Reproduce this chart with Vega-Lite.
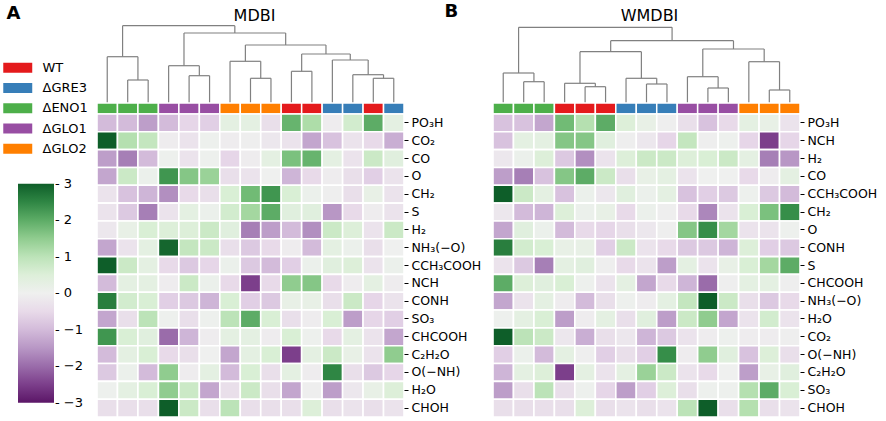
{
"$schema": "https://vega.github.io/schema/vega-lite/v6.json",
"padding": {"left": 6, "top": 2, "right": 0, "bottom": 0},
"bounds": "flush",
"align": "each",
"columns": 2,
"spacing": {"row": 0, "column": 89},
"config": {"view": {"stroke": null}, "font": "DejaVu Sans"},
"datasets": {
"dA": [
{"lx":1.5,"lh":0,"rx":2.5,"rh":0,"h":2.3},
{"lx":0.5,"lh":0,"rx":2.0,"rh":2.3,"h":4.63},
{"lx":4.5,"lh":0,"rx":5.5,"rh":0,"h":2.73},
{"lx":3.5,"lh":0,"rx":5.0,"rh":2.73,"h":3.73},
{"lx":7.5,"lh":0,"rx":8.5,"rh":0,"h":2.47},
{"lx":6.5,"lh":0,"rx":8.0,"rh":2.47,"h":4.17},
{"lx":9.5,"lh":0,"rx":10.5,"rh":0,"h":3.17},
{"lx":13.5,"lh":0,"rx":14.5,"rh":0,"h":2.47},
{"lx":12.5,"lh":0,"rx":14.0,"rh":2.47,"h":2.83},
{"lx":11.5,"lh":0,"rx":13.25,"rh":2.83,"h":4.3},
{"lx":10.0,"lh":3.17,"rx":12.375,"rh":4.3,"h":4.9},
{"lx":7.25,"lh":4.17,"rx":11.1875,"rh":4.9,"h":5.8},
{"lx":4.25,"lh":3.73,"rx":9.21875,"rh":5.8,"h":7.0},
{"lx":1.25,"lh":4.63,"rx":6.734375,"rh":7.0,"h":7.73}
],
"dB": [
{"lx":1.5,"lh":0,"rx":2.5,"rh":0,"h":2.13},
{"lx":0.5,"lh":0,"rx":2.0,"rh":2.13,"h":3.0},
{"lx":4.5,"lh":0,"rx":5.5,"rh":0,"h":1.63},
{"lx":3.5,"lh":0,"rx":5.0,"rh":1.63,"h":1.97},
{"lx":7.5,"lh":0,"rx":8.5,"rh":0,"h":1.9},
{"lx":6.5,"lh":0,"rx":8.0,"rh":1.9,"h":2.47},
{"lx":4.25,"lh":1.97,"rx":7.25,"rh":2.47,"h":5.13},
{"lx":10.5,"lh":0,"rx":11.5,"rh":0,"h":1.5},
{"lx":9.5,"lh":0,"rx":11.0,"rh":1.5,"h":2.63},
{"lx":13.5,"lh":0,"rx":14.5,"rh":0,"h":1.3},
{"lx":12.5,"lh":0,"rx":14.0,"rh":1.3,"h":4.13},
{"lx":10.25,"lh":2.63,"rx":13.25,"rh":4.13,"h":5.4},
{"lx":5.75,"lh":5.13,"rx":11.75,"rh":5.4,"h":6.23},
{"lx":1.25,"lh":3.0,"rx":8.75,"rh":6.23,"h":7.57}
],
"gA": [
{"c":1,"g":"ΔENO1"},{"c":2,"g":"ΔENO1"},{"c":3,"g":"ΔENO1"},{"c":4,"g":"ΔGLO1"},{"c":5,"g":"ΔGLO1"},{"c":6,"g":"ΔGLO1"},{"c":7,"g":"ΔGLO2"},{"c":8,"g":"ΔGLO2"},{"c":9,"g":"ΔGLO2"},{"c":10,"g":"WT"},{"c":11,"g":"WT"},{"c":12,"g":"ΔGRE3"},{"c":13,"g":"ΔGRE3"},{"c":14,"g":"WT"},{"c":15,"g":"ΔGRE3"}
],
"gB": [
{"c":1,"g":"ΔENO1"},{"c":2,"g":"ΔENO1"},{"c":3,"g":"ΔENO1"},{"c":4,"g":"WT"},{"c":5,"g":"WT"},{"c":6,"g":"WT"},{"c":7,"g":"ΔGRE3"},{"c":8,"g":"ΔGRE3"},{"c":9,"g":"ΔGRE3"},{"c":10,"g":"ΔGLO1"},{"c":11,"g":"ΔGLO1"},{"c":12,"g":"ΔGLO1"},{"c":13,"g":"ΔGLO2"},{"c":14,"g":"ΔGLO2"},{"c":15,"g":"ΔGLO2"}
],
"hA": [
{"r":"PO₃H","c":1,"v":-1.0},{"r":"PO₃H","c":2,"v":-1.0},{"r":"PO₃H","c":3,"v":-1.4},{"r":"PO₃H","c":4,"v":-1.0},{"r":"PO₃H","c":5,"v":-0.6},{"r":"PO₃H","c":6,"v":-0.7},{"r":"PO₃H","c":7,"v":0.3},{"r":"PO₃H","c":8,"v":0.3},{"r":"PO₃H","c":9,"v":-0.4},{"r":"PO₃H","c":10,"v":1.9},{"r":"PO₃H","c":11,"v":1.2},{"r":"PO₃H","c":12,"v":-0.1},{"r":"PO₃H","c":13,"v":0.7},{"r":"PO₃H","c":14,"v":2.0},{"r":"PO₃H","c":15,"v":0.3},
{"r":"CO₂","c":1,"v":3.0},{"r":"CO₂","c":2,"v":1.1},{"r":"CO₂","c":3,"v":0.9},{"r":"CO₂","c":4,"v":-0.1},{"r":"CO₂","c":5,"v":-0.3},{"r":"CO₂","c":6,"v":0.05},{"r":"CO₂","c":7,"v":-0.1},{"r":"CO₂","c":8,"v":-0.05},{"r":"CO₂","c":9,"v":-0.2},{"r":"CO₂","c":10,"v":-0.3},{"r":"CO₂","c":11,"v":-1.3},{"r":"CO₂","c":12,"v":-0.9},{"r":"CO₂","c":13,"v":-0.3},{"r":"CO₂","c":14,"v":-0.5},{"r":"CO₂","c":15,"v":-1.2},
{"r":"CO","c":1,"v":-1.4},{"r":"CO","c":2,"v":-1.8},{"r":"CO","c":3,"v":-1.0},{"r":"CO","c":4,"v":0.05},{"r":"CO","c":5,"v":-0.3},{"r":"CO","c":6,"v":0.05},{"r":"CO","c":7,"v":-0.6},{"r":"CO","c":8,"v":-0.1},{"r":"CO","c":9,"v":0.3},{"r":"CO","c":10,"v":1.7},{"r":"CO","c":11,"v":1.9},{"r":"CO","c":12,"v":0.3},{"r":"CO","c":13,"v":-0.3},{"r":"CO","c":14,"v":0.8},{"r":"CO","c":15,"v":0.4},
{"r":"O","c":1,"v":-1.3},{"r":"O","c":2,"v":0.8},{"r":"O","c":3,"v":0.1},{"r":"O","c":4,"v":2.3},{"r":"O","c":5,"v":1.6},{"r":"O","c":6,"v":1.4},{"r":"O","c":7,"v":-0.4},{"r":"O","c":8,"v":-0.3},{"r":"O","c":9,"v":0.0},{"r":"O","c":10,"v":-1.1},{"r":"O","c":11,"v":-0.5},{"r":"O","c":12,"v":-0.1},{"r":"O","c":13,"v":-0.4},{"r":"O","c":14,"v":-0.7},{"r":"O","c":15,"v":-0.3},
{"r":"CH₂","c":1,"v":-0.3},{"r":"CH₂","c":2,"v":-0.9},{"r":"CH₂","c":3,"v":-1.1},{"r":"CH₂","c":4,"v":-1.6},{"r":"CH₂","c":5,"v":-0.5},{"r":"CH₂","c":6,"v":-0.4},{"r":"CH₂","c":7,"v":0.6},{"r":"CH₂","c":8,"v":1.8},{"r":"CH₂","c":9,"v":2.3},{"r":"CH₂","c":10,"v":0.6},{"r":"CH₂","c":11,"v":0.1},{"r":"CH₂","c":12,"v":-0.05},{"r":"CH₂","c":13,"v":-0.4},{"r":"CH₂","c":14,"v":0.2},{"r":"CH₂","c":15,"v":-0.3},
{"r":"S","c":1,"v":-0.3},{"r":"S","c":2,"v":-0.8},{"r":"S","c":3,"v":-1.8},{"r":"S","c":4,"v":-0.3},{"r":"S","c":5,"v":0.3},{"r":"S","c":6,"v":0.1},{"r":"S","c":7,"v":0.7},{"r":"S","c":8,"v":1.3},{"r":"S","c":9,"v":2.0},{"r":"S","c":10,"v":0.4},{"r":"S","c":11,"v":0.4},{"r":"S","c":12,"v":-1.5},{"r":"S","c":13,"v":-0.5},{"r":"S","c":14,"v":-0.1},{"r":"S","c":15,"v":-0.3},
{"r":"H₂","c":1,"v":-0.2},{"r":"H₂","c":2,"v":0.2},{"r":"H₂","c":3,"v":0.6},{"r":"H₂","c":4,"v":0.5},{"r":"H₂","c":5,"v":0.5},{"r":"H₂","c":6,"v":0.8},{"r":"H₂","c":7,"v":0.4},{"r":"H₂","c":8,"v":-1.8},{"r":"H₂","c":9,"v":-1.4},{"r":"H₂","c":10,"v":-1.0},{"r":"H₂","c":11,"v":-1.6},{"r":"H₂","c":12,"v":0.8},{"r":"H₂","c":13,"v":0.5},{"r":"H₂","c":14,"v":-0.3},{"r":"H₂","c":15,"v":0.8},
{"r":"NH₃(−O)","c":1,"v":-1.3},{"r":"NH₃(−O)","c":2,"v":-0.3},{"r":"NH₃(−O)","c":3,"v":0.3},{"r":"NH₃(−O)","c":4,"v":2.9},{"r":"NH₃(−O)","c":5,"v":0.9},{"r":"NH₃(−O)","c":6,"v":0.8},{"r":"NH₃(−O)","c":7,"v":-0.4},{"r":"NH₃(−O)","c":8,"v":-0.8},{"r":"NH₃(−O)","c":9,"v":-0.5},{"r":"NH₃(−O)","c":10,"v":-0.1},{"r":"NH₃(−O)","c":11,"v":-1.0},{"r":"NH₃(−O)","c":12,"v":0.3},{"r":"NH₃(−O)","c":13,"v":0.1},{"r":"NH₃(−O)","c":14,"v":-0.4},{"r":"NH₃(−O)","c":15,"v":0.0},
{"r":"CCH₃COOH","c":1,"v":3.0},{"r":"CCH₃COOH","c":2,"v":0.8},{"r":"CCH₃COOH","c":3,"v":0.3},{"r":"CCH₃COOH","c":4,"v":-0.5},{"r":"CCH₃COOH","c":5,"v":-0.8},{"r":"CCH₃COOH","c":6,"v":-0.6},{"r":"CCH₃COOH","c":7,"v":0.1},{"r":"CCH₃COOH","c":8,"v":-0.8},{"r":"CCH₃COOH","c":9,"v":-1.0},{"r":"CCH₃COOH","c":10,"v":-0.7},{"r":"CCH₃COOH","c":11,"v":0.1},{"r":"CCH₃COOH","c":12,"v":0.4},{"r":"CCH₃COOH","c":13,"v":0.5},{"r":"CCH₃COOH","c":14,"v":-0.3},{"r":"CCH₃COOH","c":15,"v":0.1},
{"r":"NCH","c":1,"v":-1.0},{"r":"NCH","c":2,"v":0.3},{"r":"NCH","c":3,"v":0.3},{"r":"NCH","c":4,"v":-0.1},{"r":"NCH","c":5,"v":0.8},{"r":"NCH","c":6,"v":0.1},{"r":"NCH","c":7,"v":-0.5},{"r":"NCH","c":8,"v":-2.5},{"r":"NCH","c":9,"v":-0.5},{"r":"NCH","c":10,"v":1.5},{"r":"NCH","c":11,"v":1.6},{"r":"NCH","c":12,"v":-0.5},{"r":"NCH","c":13,"v":-0.1},{"r":"NCH","c":14,"v":0.3},{"r":"NCH","c":15,"v":-0.1},
{"r":"CONH","c":1,"v":2.6},{"r":"CONH","c":2,"v":0.7},{"r":"CONH","c":3,"v":0.6},{"r":"CONH","c":4,"v":-0.7},{"r":"CONH","c":5,"v":-0.8},{"r":"CONH","c":6,"v":-1.1},{"r":"CONH","c":7,"v":0.6},{"r":"CONH","c":8,"v":-0.7},{"r":"CONH","c":9,"v":-0.8},{"r":"CONH","c":10,"v":0.2},{"r":"CONH","c":11,"v":0.2},{"r":"CONH","c":12,"v":-0.4},{"r":"CONH","c":13,"v":0.8},{"r":"CONH","c":14,"v":-0.6},{"r":"CONH","c":15,"v":-0.3},
{"r":"SO₃","c":1,"v":-1.3},{"r":"SO₃","c":2,"v":-0.4},{"r":"SO₃","c":3,"v":1.0},{"r":"SO₃","c":4,"v":0.05},{"r":"SO₃","c":5,"v":-0.4},{"r":"SO₃","c":6,"v":0.05},{"r":"SO₃","c":7,"v":1.0},{"r":"SO₃","c":8,"v":2.0},{"r":"SO₃","c":9,"v":0.6},{"r":"SO₃","c":10,"v":-0.4},{"r":"SO₃","c":11,"v":-0.1},{"r":"SO₃","c":12,"v":0.6},{"r":"SO₃","c":13,"v":-1.4},{"r":"SO₃","c":14,"v":-0.6},{"r":"SO₃","c":15,"v":-0.7},
{"r":"CHCOOH","c":1,"v":2.3},{"r":"CHCOOH","c":2,"v":0.6},{"r":"CHCOOH","c":3,"v":0.4},{"r":"CHCOOH","c":4,"v":-2.0},{"r":"CHCOOH","c":5,"v":-1.1},{"r":"CHCOOH","c":6,"v":-0.1},{"r":"CHCOOH","c":7,"v":0.3},{"r":"CHCOOH","c":8,"v":0.3},{"r":"CHCOOH","c":9,"v":-0.1},{"r":"CHCOOH","c":10,"v":0.6},{"r":"CHCOOH","c":11,"v":0.05},{"r":"CHCOOH","c":12,"v":-0.5},{"r":"CHCOOH","c":13,"v":0.3},{"r":"CHCOOH","c":14,"v":-0.3},{"r":"CHCOOH","c":15,"v":-1.3},
{"r":"C₂H₂O","c":1,"v":-1.0},{"r":"C₂H₂O","c":2,"v":0.3},{"r":"C₂H₂O","c":3,"v":0.6},{"r":"C₂H₂O","c":4,"v":-0.5},{"r":"C₂H₂O","c":5,"v":-0.4},{"r":"C₂H₂O","c":6,"v":0.0},{"r":"C₂H₂O","c":7,"v":-1.3},{"r":"C₂H₂O","c":8,"v":0.3},{"r":"C₂H₂O","c":9,"v":0.6},{"r":"C₂H₂O","c":10,"v":-2.5},{"r":"C₂H₂O","c":11,"v":0.3},{"r":"C₂H₂O","c":12,"v":0.8},{"r":"C₂H₂O","c":13,"v":0.2},{"r":"C₂H₂O","c":14,"v":-0.3},{"r":"C₂H₂O","c":15,"v":1.5},
{"r":"O(−NH)","c":1,"v":-0.8},{"r":"O(−NH)","c":2,"v":0.1},{"r":"O(−NH)","c":3,"v":-1.0},{"r":"O(−NH)","c":4,"v":1.5},{"r":"O(−NH)","c":5,"v":-0.1},{"r":"O(−NH)","c":6,"v":0.3},{"r":"O(−NH)","c":7,"v":-1.0},{"r":"O(−NH)","c":8,"v":0.6},{"r":"O(−NH)","c":9,"v":-0.4},{"r":"O(−NH)","c":10,"v":0.3},{"r":"O(−NH)","c":11,"v":-0.1},{"r":"O(−NH)","c":12,"v":2.5},{"r":"O(−NH)","c":13,"v":-0.4},{"r":"O(−NH)","c":14,"v":-0.8},{"r":"O(−NH)","c":15,"v":-0.6},
{"r":"H₂O","c":1,"v":0.05},{"r":"H₂O","c":2,"v":0.3},{"r":"H₂O","c":3,"v":0.6},{"r":"H₂O","c":4,"v":1.5},{"r":"H₂O","c":5,"v":0.8},{"r":"H₂O","c":6,"v":-1.3},{"r":"H₂O","c":7,"v":-0.4},{"r":"H₂O","c":8,"v":0.8},{"r":"H₂O","c":9,"v":-0.4},{"r":"H₂O","c":10,"v":-1.3},{"r":"H₂O","c":11,"v":-0.05},{"r":"H₂O","c":12,"v":-1.4},{"r":"H₂O","c":13,"v":-0.2},{"r":"H₂O","c":14,"v":0.2},{"r":"H₂O","c":15,"v":0.5},
{"r":"CHOH","c":1,"v":-0.4},{"r":"CHOH","c":2,"v":-0.4},{"r":"CHOH","c":3,"v":-0.4},{"r":"CHOH","c":4,"v":3.0},{"r":"CHOH","c":5,"v":0.8},{"r":"CHOH","c":6,"v":-0.4},{"r":"CHOH","c":7,"v":1.0},{"r":"CHOH","c":8,"v":-0.4},{"r":"CHOH","c":9,"v":-0.4},{"r":"CHOH","c":10,"v":-0.4},{"r":"CHOH","c":11,"v":0.5},{"r":"CHOH","c":12,"v":-0.4},{"r":"CHOH","c":13,"v":-0.3},{"r":"CHOH","c":14,"v":-0.4},{"r":"CHOH","c":15,"v":-0.3}
],
"hB": [
{"r":"PO₃H","c":1,"v":-0.9},{"r":"PO₃H","c":2,"v":-0.9},{"r":"PO₃H","c":3,"v":-1.3},{"r":"PO₃H","c":4,"v":1.8},{"r":"PO₃H","c":5,"v":1.1},{"r":"PO₃H","c":6,"v":2.0},{"r":"PO₃H","c":7,"v":0.5},{"r":"PO₃H","c":8,"v":0.2},{"r":"PO₃H","c":9,"v":-0.05},{"r":"PO₃H","c":10,"v":-0.4},{"r":"PO₃H","c":11,"v":-0.9},{"r":"PO₃H","c":12,"v":-0.5},{"r":"PO₃H","c":13,"v":0.3},{"r":"PO₃H","c":14,"v":0.2},{"r":"PO₃H","c":15,"v":-0.3},
{"r":"NCH","c":1,"v":-0.9},{"r":"NCH","c":2,"v":0.3},{"r":"NCH","c":3,"v":0.3},{"r":"NCH","c":4,"v":1.6},{"r":"NCH","c":5,"v":1.6},{"r":"NCH","c":6,"v":0.4},{"r":"NCH","c":7,"v":-0.05},{"r":"NCH","c":8,"v":-0.2},{"r":"NCH","c":9,"v":-0.6},{"r":"NCH","c":10,"v":0.9},{"r":"NCH","c":11,"v":-0.05},{"r":"NCH","c":12,"v":0.05},{"r":"NCH","c":13,"v":-0.6},{"r":"NCH","c":14,"v":-2.5},{"r":"NCH","c":15,"v":-0.6},
{"r":"H₂","c":1,"v":-0.2},{"r":"H₂","c":2,"v":0.1},{"r":"H₂","c":3,"v":0.5},{"r":"H₂","c":4,"v":-0.8},{"r":"H₂","c":5,"v":-1.6},{"r":"H₂","c":6,"v":-0.3},{"r":"H₂","c":7,"v":0.5},{"r":"H₂","c":8,"v":0.8},{"r":"H₂","c":9,"v":0.8},{"r":"H₂","c":10,"v":0.5},{"r":"H₂","c":11,"v":0.6},{"r":"H₂","c":12,"v":0.8},{"r":"H₂","c":13,"v":0.3},{"r":"H₂","c":14,"v":-1.8},{"r":"H₂","c":15,"v":-1.5},
{"r":"CO","c":1,"v":-1.4},{"r":"CO","c":2,"v":-1.8},{"r":"CO","c":3,"v":-0.9},{"r":"CO","c":4,"v":1.6},{"r":"CO","c":5,"v":2.0},{"r":"CO","c":6,"v":0.8},{"r":"CO","c":7,"v":-0.4},{"r":"CO","c":8,"v":0.2},{"r":"CO","c":9,"v":0.3},{"r":"CO","c":10,"v":-0.3},{"r":"CO","c":11,"v":0.0},{"r":"CO","c":12,"v":0.0},{"r":"CO","c":13,"v":-0.5},{"r":"CO","c":14,"v":-0.1},{"r":"CO","c":15,"v":0.3},
{"r":"CCH₃COOH","c":1,"v":3.0},{"r":"CCH₃COOH","c":2,"v":0.8},{"r":"CCH₃COOH","c":3,"v":0.3},{"r":"CCH₃COOH","c":4,"v":-0.9},{"r":"CCH₃COOH","c":5,"v":0.1},{"r":"CCH₃COOH","c":6,"v":-0.2},{"r":"CCH₃COOH","c":7,"v":0.4},{"r":"CCH₃COOH","c":8,"v":0.1},{"r":"CCH₃COOH","c":9,"v":0.3},{"r":"CCH₃COOH","c":10,"v":-0.9},{"r":"CCH₃COOH","c":11,"v":-0.7},{"r":"CCH₃COOH","c":12,"v":-0.8},{"r":"CCH₃COOH","c":13,"v":0.05},{"r":"CCH₃COOH","c":14,"v":-0.8},{"r":"CCH₃COOH","c":15,"v":-1.0},
{"r":"CH₂","c":1,"v":-0.2},{"r":"CH₂","c":2,"v":-1.0},{"r":"CH₂","c":3,"v":-1.1},{"r":"CH₂","c":4,"v":0.5},{"r":"CH₂","c":5,"v":0.1},{"r":"CH₂","c":6,"v":0.2},{"r":"CH₂","c":7,"v":-0.5},{"r":"CH₂","c":8,"v":0.1},{"r":"CH₂","c":9,"v":-0.05},{"r":"CH₂","c":10,"v":-0.5},{"r":"CH₂","c":11,"v":-1.7},{"r":"CH₂","c":12,"v":-0.3},{"r":"CH₂","c":13,"v":0.6},{"r":"CH₂","c":14,"v":1.7},{"r":"CH₂","c":15,"v":2.4},
{"r":"O","c":1,"v":-1.3},{"r":"O","c":2,"v":0.4},{"r":"O","c":3,"v":0.1},{"r":"O","c":4,"v":-1.0},{"r":"O","c":5,"v":-0.5},{"r":"O","c":6,"v":-0.6},{"r":"O","c":7,"v":-0.4},{"r":"O","c":8,"v":-0.2},{"r":"O","c":9,"v":-0.05},{"r":"O","c":10,"v":1.6},{"r":"O","c":11,"v":2.4},{"r":"O","c":12,"v":1.3},{"r":"O","c":13,"v":-0.3},{"r":"O","c":14,"v":-0.3},{"r":"O","c":15,"v":0.05},
{"r":"CONH","c":1,"v":2.6},{"r":"CONH","c":2,"v":0.7},{"r":"CONH","c":3,"v":0.6},{"r":"CONH","c":4,"v":0.2},{"r":"CONH","c":5,"v":0.2},{"r":"CONH","c":6,"v":-0.7},{"r":"CONH","c":7,"v":0.8},{"r":"CONH","c":8,"v":-0.3},{"r":"CONH","c":9,"v":-0.5},{"r":"CONH","c":10,"v":-0.8},{"r":"CONH","c":11,"v":-0.8},{"r":"CONH","c":12,"v":-1.1},{"r":"CONH","c":13,"v":0.5},{"r":"CONH","c":14,"v":-0.7},{"r":"CONH","c":15,"v":-0.8},
{"r":"S","c":1,"v":-0.3},{"r":"S","c":2,"v":-0.8},{"r":"S","c":3,"v":-1.8},{"r":"S","c":4,"v":0.3},{"r":"S","c":5,"v":0.4},{"r":"S","c":6,"v":-0.05},{"r":"S","c":7,"v":-0.5},{"r":"S","c":8,"v":-0.3},{"r":"S","c":9,"v":-1.4},{"r":"S","c":10,"v":0.3},{"r":"S","c":11,"v":-0.3},{"r":"S","c":12,"v":0.2},{"r":"S","c":13,"v":0.6},{"r":"S","c":14,"v":1.3},{"r":"S","c":15,"v":2.0},
{"r":"CHCOOH","c":1,"v":2.0},{"r":"CHCOOH","c":2,"v":0.5},{"r":"CHCOOH","c":3,"v":0.4},{"r":"CHCOOH","c":4,"v":0.6},{"r":"CHCOOH","c":5,"v":0.05},{"r":"CHCOOH","c":6,"v":-0.3},{"r":"CHCOOH","c":7,"v":0.3},{"r":"CHCOOH","c":8,"v":-1.3},{"r":"CHCOOH","c":9,"v":-0.5},{"r":"CHCOOH","c":10,"v":-1.1},{"r":"CHCOOH","c":11,"v":-2.0},{"r":"CHCOOH","c":12,"v":-0.05},{"r":"CHCOOH","c":13,"v":0.3},{"r":"CHCOOH","c":14,"v":0.3},{"r":"CHCOOH","c":15,"v":-0.05},
{"r":"NH₃(−O)","c":1,"v":-1.3},{"r":"NH₃(−O)","c":2,"v":-0.3},{"r":"NH₃(−O)","c":3,"v":0.3},{"r":"NH₃(−O)","c":4,"v":-0.1},{"r":"NH₃(−O)","c":5,"v":-1.0},{"r":"NH₃(−O)","c":6,"v":-0.4},{"r":"NH₃(−O)","c":7,"v":0.05},{"r":"NH₃(−O)","c":8,"v":-0.1},{"r":"NH₃(−O)","c":9,"v":0.3},{"r":"NH₃(−O)","c":10,"v":0.9},{"r":"NH₃(−O)","c":11,"v":3.0},{"r":"NH₃(−O)","c":12,"v":0.8},{"r":"NH₃(−O)","c":13,"v":-0.4},{"r":"NH₃(−O)","c":14,"v":-0.8},{"r":"NH₃(−O)","c":15,"v":-0.5},
{"r":"H₂O","c":1,"v":0.05},{"r":"H₂O","c":2,"v":0.3},{"r":"H₂O","c":3,"v":0.6},{"r":"H₂O","c":4,"v":-1.4},{"r":"H₂O","c":5,"v":-0.1},{"r":"H₂O","c":6,"v":0.3},{"r":"H₂O","c":7,"v":-0.4},{"r":"H₂O","c":8,"v":0.4},{"r":"H₂O","c":9,"v":-1.4},{"r":"H₂O","c":10,"v":0.8},{"r":"H₂O","c":11,"v":1.5},{"r":"H₂O","c":12,"v":-1.3},{"r":"H₂O","c":13,"v":-0.3},{"r":"H₂O","c":14,"v":0.7},{"r":"H₂O","c":15,"v":-0.3},
{"r":"CO₂","c":1,"v":3.0},{"r":"CO₂","c":2,"v":1.0},{"r":"CO₂","c":3,"v":0.8},{"r":"CO₂","c":4,"v":-0.2},{"r":"CO₂","c":5,"v":-1.2},{"r":"CO₂","c":6,"v":-0.4},{"r":"CO₂","c":7,"v":-0.2},{"r":"CO₂","c":8,"v":-1.1},{"r":"CO₂","c":9,"v":-0.8},{"r":"CO₂","c":10,"v":-0.3},{"r":"CO₂","c":11,"v":-0.1},{"r":"CO₂","c":12,"v":0.05},{"r":"CO₂","c":13,"v":-0.1},{"r":"CO₂","c":14,"v":-0.1},{"r":"CO₂","c":15,"v":-0.05},
{"r":"O(−NH)","c":1,"v":-0.7},{"r":"O(−NH)","c":2,"v":0.1},{"r":"O(−NH)","c":3,"v":-1.0},{"r":"O(−NH)","c":4,"v":0.3},{"r":"O(−NH)","c":5,"v":-0.05},{"r":"O(−NH)","c":6,"v":-0.7},{"r":"O(−NH)","c":7,"v":-0.4},{"r":"O(−NH)","c":8,"v":-0.7},{"r":"O(−NH)","c":9,"v":2.4},{"r":"O(−NH)","c":10,"v":-0.1},{"r":"O(−NH)","c":11,"v":1.5},{"r":"O(−NH)","c":12,"v":0.4},{"r":"O(−NH)","c":13,"v":-0.9},{"r":"O(−NH)","c":14,"v":0.5},{"r":"O(−NH)","c":15,"v":-0.4},
{"r":"C₂H₂O","c":1,"v":-1.1},{"r":"C₂H₂O","c":2,"v":0.3},{"r":"C₂H₂O","c":3,"v":0.5},{"r":"C₂H₂O","c":4,"v":-2.5},{"r":"C₂H₂O","c":5,"v":0.3},{"r":"C₂H₂O","c":6,"v":-0.3},{"r":"C₂H₂O","c":7,"v":0.3},{"r":"C₂H₂O","c":8,"v":1.4},{"r":"C₂H₂O","c":9,"v":0.8},{"r":"C₂H₂O","c":10,"v":-0.3},{"r":"C₂H₂O","c":11,"v":-0.5},{"r":"C₂H₂O","c":12,"v":0.0},{"r":"C₂H₂O","c":13,"v":-1.4},{"r":"C₂H₂O","c":14,"v":0.2},{"r":"C₂H₂O","c":15,"v":0.4},
{"r":"SO₃","c":1,"v":-1.4},{"r":"SO₃","c":2,"v":-0.4},{"r":"SO₃","c":3,"v":1.0},{"r":"SO₃","c":4,"v":-0.4},{"r":"SO₃","c":5,"v":0.05},{"r":"SO₃","c":6,"v":-0.6},{"r":"SO₃","c":7,"v":-1.4},{"r":"SO₃","c":8,"v":-0.7},{"r":"SO₃","c":9,"v":0.5},{"r":"SO₃","c":10,"v":-0.4},{"r":"SO₃","c":11,"v":0.05},{"r":"SO₃","c":12,"v":0.05},{"r":"SO₃","c":13,"v":1.1},{"r":"SO₃","c":14,"v":2.0},{"r":"SO₃","c":15,"v":0.6},
{"r":"CHOH","c":1,"v":-0.4},{"r":"CHOH","c":2,"v":-0.4},{"r":"CHOH","c":3,"v":-0.4},{"r":"CHOH","c":4,"v":-0.4},{"r":"CHOH","c":5,"v":0.5},{"r":"CHOH","c":6,"v":-0.4},{"r":"CHOH","c":7,"v":-0.3},{"r":"CHOH","c":8,"v":-0.4},{"r":"CHOH","c":9,"v":-0.3},{"r":"CHOH","c":10,"v":1.0},{"r":"CHOH","c":11,"v":3.0},{"r":"CHOH","c":12,"v":-0.4},{"r":"CHOH","c":13,"v":1.1},{"r":"CHOH","c":14,"v":-0.4},{"r":"CHOH","c":15,"v":-0.3}
]
},
"concat": [
{
"width": 307, "height": 81,
"data": {"name": "dA"},
"layer": [
{"mark": {"type": "rule", "color": "#808080", "strokeWidth": 1.2},
 "encoding": {"x": {"field": "lx", "type": "quantitative", "scale": {"domain": [0, 15], "nice": false, "zero": false}, "axis": {"orient": "top", "title": "MDBI", "labels": false, "ticks": false, "domain": false, "grid": false, "titleFontSize": 16, "titleFontWeight": "normal", "titleFont": "DejaVu Sans", "titleColor": "#000", "titleBaseline": "alphabetic", "titleY": -1.5, "titleX": 157}},
  "y": {"field": "lh", "type": "quantitative", "scale": {"domain": [0, 8.1], "nice": false}, "axis": {"title": "A", "labels": false, "ticks": false, "domain": false, "grid": false, "titleAngle": 0, "titleFontSize": 18, "titleFontWeight": "bold", "titleFont": "DejaVu Sans", "titleColor": "#000", "titleAlign": "left", "titleBaseline": "alphabetic", "titleX": -91, "titleY": -3.5}},
  "y2": {"field": "h"}}},
{"mark": {"type": "rule", "color": "#808080", "strokeWidth": 1.2},
 "encoding": {"x": {"field": "rx", "type": "quantitative"}, "y": {"field": "rh", "type": "quantitative"}, "y2": {"field": "h"}}},
{"mark": {"type": "rule", "color": "#808080", "strokeWidth": 1.2},
 "encoding": {"x": {"field": "lx", "type": "quantitative"}, "x2": {"field": "rx"}, "y": {"field": "h", "type": "quantitative"}}}
]
},
{
"width": 307, "height": 81,
"data": {"name": "dB"},
"layer": [
{"mark": {"type": "rule", "color": "#808080", "strokeWidth": 1.2},
 "encoding": {"x": {"field": "lx", "type": "quantitative", "scale": {"domain": [0, 15], "nice": false, "zero": false}, "axis": {"orient": "top", "title": "WMDBI", "labels": false, "ticks": false, "domain": false, "grid": false, "titleFontSize": 16, "titleFontWeight": "normal", "titleFont": "DejaVu Sans", "titleColor": "#000", "titleBaseline": "alphabetic", "titleY": -1.5, "titleX": 156}},
  "y": {"field": "lh", "type": "quantitative", "scale": {"domain": [0, 8.1], "nice": false}, "axis": {"title": "B", "labels": false, "ticks": false, "domain": false, "grid": false, "titleAngle": 0, "titleFontSize": 18, "titleFontWeight": "bold", "titleFont": "DejaVu Sans", "titleColor": "#000", "titleAlign": "left", "titleBaseline": "alphabetic", "titleX": -49, "titleY": -5.3}},
  "y2": {"field": "h"}}},
{"mark": {"type": "rule", "color": "#808080", "strokeWidth": 1.2},
 "encoding": {"x": {"field": "rx", "type": "quantitative"}, "y": {"field": "rh", "type": "quantitative"}, "y2": {"field": "h"}}},
{"mark": {"type": "rule", "color": "#808080", "strokeWidth": 1.2},
 "encoding": {"x": {"field": "lx", "type": "quantitative"}, "x2": {"field": "rx"}, "y": {"field": "h", "type": "quantitative"}}}
]
},
{
"width": 307, "height": 11,
"data": {"name": "gA"},
"mark": {"type": "rect", "stroke": "white", "strokeWidth": 1.5},
"encoding": {
 "x": {"field": "c", "type": "ordinal", "axis": null},
 "fill": {"field": "g", "type": "nominal", "scale": {"domain": ["WT", "ΔGRE3", "ΔENO1", "ΔGLO1", "ΔGLO2"], "range": ["#e41a1c", "#377eb8", "#4daf4a", "#984ea3", "#ff7f00"]},
  "legend": {"orient": "none", "legendX": -86.75, "legendY": 38.25, "title": null, "symbolType": "M-2,-0.69H2V0.69H-2Z", "symbolSize": 210, "symbolStrokeWidth": 0, "symbolOpacity": 1, "labelFontSize": 13, "labelFont": "DejaVu Sans", "labelColor": "#000", "labelOffset": 17.25, "rowPadding": 5.25}}
}
},
{
"width": 307, "height": 11,
"data": {"name": "gB"},
"mark": {"type": "rect", "stroke": "white", "strokeWidth": 1.5},
"encoding": {
 "x": {"field": "c", "type": "ordinal", "axis": null},
 "fill": {"field": "g", "type": "nominal", "scale": {"domain": ["WT", "ΔGRE3", "ΔENO1", "ΔGLO1", "ΔGLO2"], "range": ["#e41a1c", "#377eb8", "#4daf4a", "#984ea3", "#ff7f00"]},
  "legend": {"orient": "none", "legendX": -86.75, "legendY": 38.25, "title": null, "symbolType": "M-2,-0.69H2V0.69H-2Z", "symbolSize": 210, "symbolStrokeWidth": 0, "symbolOpacity": 1, "labelFontSize": 13, "labelFont": "DejaVu Sans", "labelColor": "#000", "labelOffset": 17.25, "rowPadding": 5.25}}
}
},
{
"width": 307, "height": 303,
"data": {"name": "hA"},
"mark": {"type": "rect", "stroke": "white", "strokeWidth": 1.6},
"encoding": {
 "x": {"field": "c", "type": "ordinal", "axis": null},
 "y": {"field": "r", "type": "nominal", "sort": ["PO₃H", "CO₂", "CO", "O", "CH₂", "S", "H₂", "NH₃(−O)", "CCH₃COOH", "NCH", "CONH", "SO₃", "CHCOOH", "C₂H₂O", "O(−NH)", "H₂O", "CHOH"],
  "axis": {"orient": "right", "title": null, "domain": false, "ticks": true, "tickSize": 4, "tickColor": "#000", "tickWidth": 1, "labelPadding": 3, "labelFontSize": 12.5, "labelFont": "DejaVu Sans", "labelColor": "#000", "grid": false}},
 "color": {"field": "v", "type": "quantitative", "scale": {"scheme": "purplegreen", "domain": [-3, 3]},
  "legend": {"orient": "none", "legendX": -79, "legendY": 161.7, "title": null, "direction": "vertical", "gradientLength": 219, "gradientThickness": 36, "gradientStrokeWidth": 0, "values": [-3, -2, -1, 0, 1, 2, 3], "labelFontSize": 13, "labelFont": "DejaVu Sans", "labelColor": "#000", "labelOffset": 1, "labelExpr": "'- ' + datum.label", "encode": {"labels": {"update": {"baseline": {"value": "middle"}}}}}}
}
},
{
"width": 307, "height": 303,
"data": {"name": "hB"},
"mark": {"type": "rect", "stroke": "white", "strokeWidth": 1.6},
"encoding": {
 "x": {"field": "c", "type": "ordinal", "axis": null},
 "y": {"field": "r", "type": "nominal", "sort": ["PO₃H", "NCH", "H₂", "CO", "CCH₃COOH", "CH₂", "O", "CONH", "S", "CHCOOH", "NH₃(−O)", "H₂O", "CO₂", "O(−NH)", "C₂H₂O", "SO₃", "CHOH"],
  "axis": {"orient": "right", "title": null, "domain": false, "ticks": true, "tickSize": 4, "tickColor": "#000", "tickWidth": 1, "labelPadding": 3, "labelFontSize": 12.5, "labelFont": "DejaVu Sans", "labelColor": "#000", "grid": false}},
 "color": {"field": "v", "type": "quantitative", "scale": {"scheme": "purplegreen", "domain": [-3, 3]},
  "legend": {"orient": "none", "legendX": -79, "legendY": 161.7, "title": null, "direction": "vertical", "gradientLength": 219, "gradientThickness": 36, "gradientStrokeWidth": 0, "values": [-3, -2, -1, 0, 1, 2, 3], "labelFontSize": 13, "labelFont": "DejaVu Sans", "labelColor": "#000", "labelOffset": 1, "labelExpr": "'- ' + datum.label", "encode": {"labels": {"update": {"baseline": {"value": "middle"}}}}}}
}
}
]
}
